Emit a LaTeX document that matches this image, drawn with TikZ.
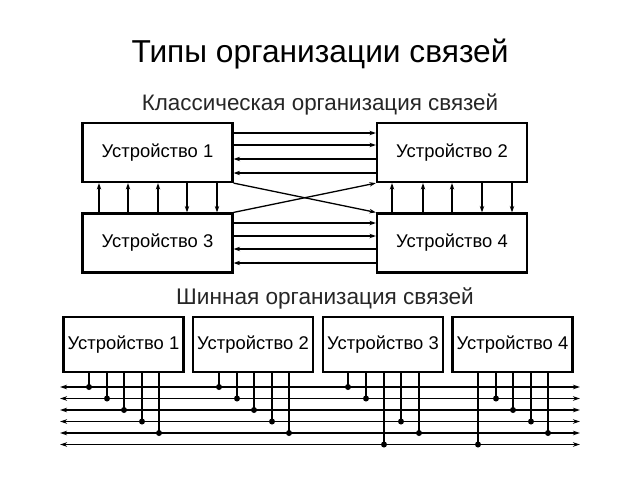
\documentclass[tikz,border=0pt]{standalone}
\usepackage{fontspec}
\setmainfont{Liberation Sans}
\usetikzlibrary{arrows.meta}
\begin{document}
\begin{tikzpicture}[x=1pt,y=-1pt,
  box/.style={draw, line width=2.2pt, inner sep=0pt, font=\fontsize{18.4}{22}\selectfont},
  topbox/.style={box, minimum width=150pt, minimum height=59pt},
  busbox/.style={box, minimum width=120pt, minimum height=55pt},
  arr/.style={line width=1.3pt, -{Stealth[length=6.5pt,width=4.5pt]}},
  bus/.style={line width=1.5pt, {Stealth[length=7pt,width=4.5pt]}-{Stealth[length=7pt,width=4.5pt]}},
  tap/.style={line width=1.5pt},
  dot/.style={circle, fill, inner sep=0pt, minimum size=6pt}]
\useasboundingbox[fill=white] (0,0) rectangle (640,480);
\node[font=\fontsize{31.7}{36}\selectfont] (title) at (320,54) {Типы организации связей};
\node[font=\fontsize{22.4}{26}\selectfont, text=black!85] (sub1) at (320,105) {Классическая организация связей};
\node[font=\fontsize{22.6}{26}\selectfont, text=black!85] (sub2) at (325,298) {Шинная организация связей};
% classic
\node[topbox] (c1) at (157.5,152.5) {Устройство 1};
\node[topbox] (c2) at (452,152.5) {Устройство 2};
\node[topbox] (c3) at (157.5,243) {Устройство 3};
\node[topbox] (c4) at (452,243) {Устройство 4};
\foreach \y in {133,145} \draw[arr] (c1.east |- 0,\y) -- (c2.west |- 0,\y);
\foreach \y in {159,173} \draw[arr] (c2.west |- 0,\y) -- (c1.east |- 0,\y);
\foreach \y in {223,236} \draw[arr] (c3.east |- 0,\y) -- (c4.west |- 0,\y);
\foreach \y in {249,263} \draw[arr] (c4.west |- 0,\y) -- (c3.east |- 0,\y);
\draw[arr] (c1.south east) -- (c4.north west);
\draw[arr] (c3.north east) -- (c2.south west);
\foreach \x in {99,128,158} \draw[arr] (c3.north -| \x,0) -- (c1.south -| \x,0);
\foreach \x in {187,217} \draw[arr] (c1.south -| \x,0) -- (c3.north -| \x,0);
\foreach \x in {392,423,452} \draw[arr] (c4.north -| \x,0) -- (c2.south -| \x,0);
\foreach \x in {482,512} \draw[arr] (c2.south -| \x,0) -- (c4.north -| \x,0);
% bus
\node[busbox] (b1) at (123.5,344.5) {Устройство 1};
\node[busbox] (b2) at (253,344.5) {Устройство 2};
\node[busbox] (b3) at (383,344.5) {Устройство 3};
\node[busbox] (b4) at (512.5,344.5) {Устройство 4};
\foreach \i/\y in {1/387,2/398.5,3/410,4/421.5,5/433,6/444.5} {
  \coordinate (l\i) at (60,\y);
  \coordinate (r\i) at (580,\y);
  \draw[bus] (l\i) -- (r\i);
}
\foreach \b/\x/\i in {b1/89/1,b1/107/2,b1/124/3,b1/142/4,b1/159/5,
                      b2/219/1,b2/237/2,b2/254/3,b2/272/4,b2/289/5,
                      b3/348/1,b3/366/2,b3/384/6,b3/401/4,b3/419/5,
                      b4/478/6,b4/496/2,b4/513/3,b4/531/4,b4/548/5} {
  \draw[tap] (\b.south -| \x,0) -- (l\i -| \x,0);
  \node[dot] at (l\i -| \x,0) {};
}
\end{tikzpicture}
\end{document}
